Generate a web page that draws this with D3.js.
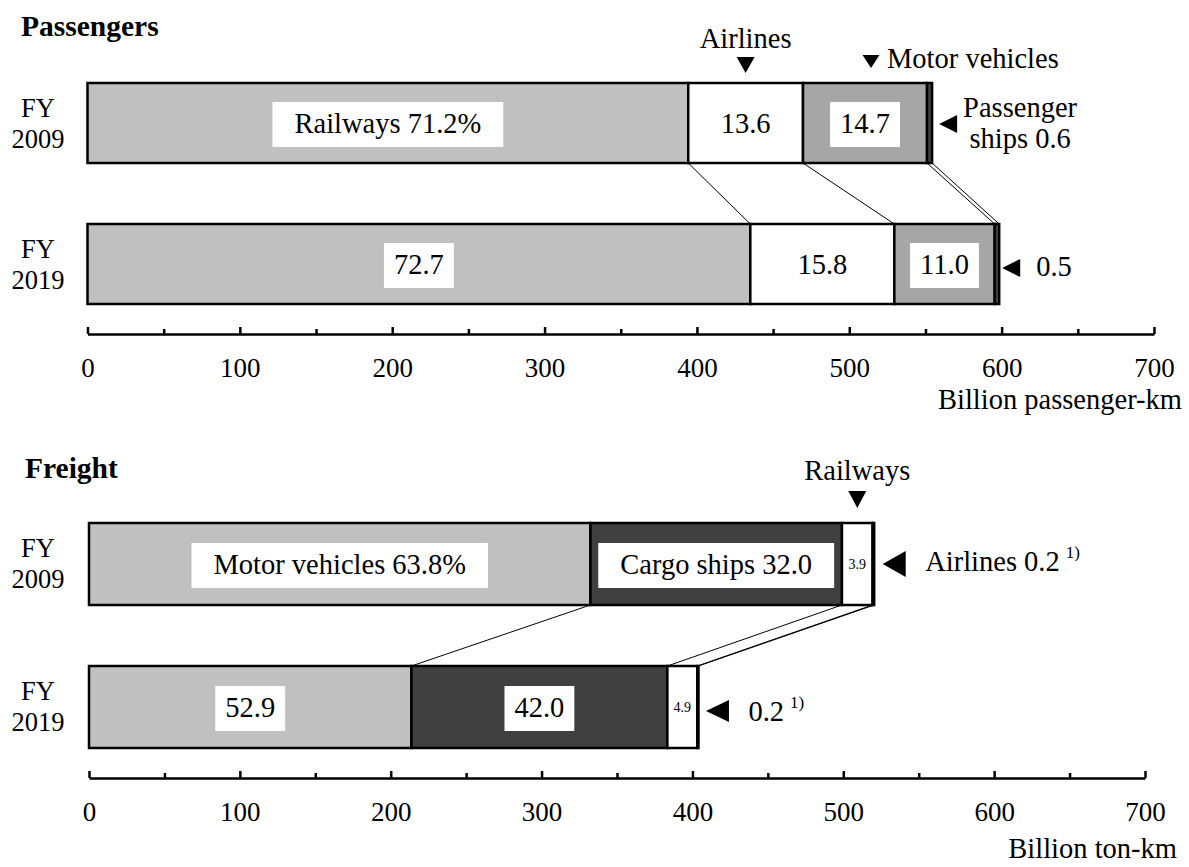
<!DOCTYPE html>
<html><head><meta charset="utf-8">
<script src="https://cdn.jsdelivr.net/npm/d3@7"></script>
<style>
body{margin:0;background:#fff}
svg{display:block;font-family:"Liberation Serif","Times New Roman",serif}
</style>
</head><body><svg id="c" width="1189" height="867"></svg>
<script>
// ---------------- data ----------------
const years = ["2009", "2019"];
const passengerModes = ["Railways", "Airlines", "Motor vehicles", "Passenger ships"];
const passengerTotals = [553.8, 598.4];            // billion passenger-km
const passengerShares2009 = [71.2, 13.6, 14.7, 0.6]; // %
const passengerShares2019 = [72.7, 15.8, 11.0, 0.5]; // %
const freightModes = ["Motor vehicles", "Cargo ships", "Railways", "Airlines"];
const freightTotals = [521.0, 404.0];              // billion ton-km
const freightShares2009 = [63.8, 32.0, 3.9, 0.2];  // %
const freightShares2019 = [52.9, 42.0, 4.9, 0.2];  // %
const majorTicks = [0, 100, 200, 300, 400, 500, 600, 700];
const minorTicks = [50, 150, 250, 350, 450, 550, 650];
const passengerColors = ["#c0c0c0", "#ffffff", "#a6a6a6", "#404040"];
const freightColors = ["#c0c0c0", "#404040", "#ffffff", "#111111"];

const svg = d3.select("#c");
const fmt = d3.format(".1f");
const FS = 28.5;

function tri(g, cx, cy, w, h, dir) {
  let pts;
  if (dir === "down") pts = [[cx - w/2, cy - h/2], [cx + w/2, cy - h/2], [cx, cy + h/2]];
  else pts = [[cx - w/2, cy], [cx + w/2, cy - h/2], [cx + w/2, cy + h/2]];
  g.append("path").attr("d", d3.line()(pts) + "Z").attr("fill", "#000");
}

function drawPanel(cfg) {
  const g = svg.append("g");
  const x = d3.scaleLinear().domain([0, 700]).range(cfg.range);
  const rows = cfg.shares.map((sh, i) => {
    const vals = sh.map(s => s / 100 * cfg.totals[i]);
    const cum = [0]; vals.forEach(v => cum.push(cum[cum.length - 1] + v));
    return { shares: sh, vals, cum, top: cfg.tops[i], year: years[i] };
  });

  // title
  g.append("text").attr("x", cfg.titleX).attr("y", cfg.titleY)
    .attr("font-weight", "bold").attr("font-size", 29.5).text(cfg.title);

  // connectors
  for (let k = 1; k < rows[0].cum.length; k++) {
    g.append("line")
      .attr("x1", x(rows[0].cum[k])).attr("y1", rows[0].top + cfg.barH)
      .attr("x2", x(rows[1].cum[k])).attr("y2", rows[1].top)
      .attr("stroke", "#000").attr("stroke-width", 1);
  }

  rows.forEach((r, i) => {
    // year labels
    const yl = g.append("text").attr("text-anchor", "middle").attr("font-size", 26.5);
    yl.append("tspan").attr("x", 38).attr("y", r.top + 34).text("FY");
    yl.append("tspan").attr("x", 38).attr("y", r.top + 65).text(r.year);

    // segments
    g.selectAll(null).data(r.vals).join("rect")
      .attr("x", (d, j) => x(r.cum[j]))
      .attr("y", r.top)
      .attr("width", (d, j) => x(r.cum[j + 1]) - x(r.cum[j]))
      .attr("height", cfg.barH)
      .attr("fill", (d, j) => cfg.colors[j])
      .attr("stroke", "#000").attr("stroke-width", 2.5);

    // in-bar labels
    r.vals.forEach((v, j) => {
      if (j === r.vals.length - 1) return;
      let txt = fmt(r.shares[j]);
      if (i === 0 && cfg.named.includes(j)) txt = cfg.modes[j] + " " + txt + (j === 0 ? "%" : "");
      const x0 = x(r.cum[j]), x1 = x(r.cum[j + 1]);
      const cx = (x0 + x1) / 2, cy = r.top + cfg.barH / 2;
      const small = (x1 - x0) < 50;
      const fs = small ? 14 : FS;
      const lg = g.append("g");
      const t = lg.append("text").attr("x", cx).attr("y", cy + fs * 0.34)
        .attr("text-anchor", "middle").attr("font-size", fs).text(txt);
      if (!small && cfg.colors[j] !== "#ffffff") {
        const w = t.node().getComputedTextLength() + (txt.length > 5 ? 44 : 20);
        lg.insert("rect", "text").attr("x", cx - w / 2).attr("y", cy - 21)
          .attr("width", w).attr("height", 45).attr("fill", "#fff");
      }
    });
  });

  // axis
  const ay = cfg.axisY;
  const ax = g.append("g").attr("transform", `translate(0,${ay})`)
    .call(d3.axisBottom(x).tickValues(majorTicks).tickSize(-7).tickSizeOuter(0).tickPadding(24).tickFormat(d3.format("d")));
  ax.select(".domain").attr("stroke-width", 2.5);
  ax.selectAll(".tick line").attr("stroke-width", 2.5);
  ax.selectAll("text").attr("font-size", 27).attr("font-family", "'Liberation Serif','Times New Roman',serif").attr("fill", "#000");
  const mx = g.append("g").attr("transform", `translate(0,${ay})`)
    .call(d3.axisBottom(x).tickValues(minorTicks).tickSize(-5).tickSizeOuter(0).tickFormat(""));
  mx.select(".domain").remove();
  mx.selectAll(".tick line").attr("stroke-width", 2.5);

  g.append("text").attr("x", cfg.unitX).attr("y", cfg.unitY).attr("text-anchor", "end")
    .attr("font-size", FS).text(cfg.unit);

  return { g, x, rows };
}

// ---------- Passengers ----------
const P = drawPanel({
  title: "Passengers", titleX: 21, titleY: 36,
  range: [87.5, 1154], tops: [83, 224], barH: 80, axisY: 334,
  totals: passengerTotals, shares: [passengerShares2009, passengerShares2019],
  modes: passengerModes, colors: passengerColors, named: [0],
  unit: "Billion passenger-km", unitX: 1182, unitY: 409
});
{
  const { g, x, rows } = P;
  const r0 = rows[0], r1 = rows[1];
  // Airlines marker
  const ac = x((r0.cum[1] + r0.cum[2]) / 2);
  tri(g, ac, r0.top - 18, 18, 16, "down");
  g.append("text").attr("x", ac).attr("y", r0.top - 35).attr("text-anchor", "middle")
    .attr("font-size", FS).text(passengerModes[1]);
  // Motor vehicles marker
  const mc = x((r0.cum[2] + r0.cum[3]) / 2) + 6;
  tri(g, mc, r0.top - 21.5, 17, 13, "down");
  g.append("text").attr("x", mc + 16).attr("y", r0.top - 15).attr("font-size", FS)
    .text(passengerModes[2]);
  // Passenger ships 2009
  const e0 = x(r0.cum[4]);
  tri(g, e0 + 16, r0.top + 41, 18, 18, "left");
  const st = g.append("text").attr("text-anchor", "middle").attr("font-size", FS);
  st.append("tspan").attr("x", e0 + 88).attr("y", r0.top + 34).text("Passenger");
  st.append("tspan").attr("x", e0 + 88).attr("y", r0.top + 65).text("ships " + fmt(r0.shares[3]));
  // 2019
  const e1 = x(r1.cum[4]);
  tri(g, e1 + 12, r1.top + 44, 18, 18, "left");
  g.append("text").attr("x", e1 + 37).attr("y", r1.top + 52).attr("font-size", FS)
    .text(fmt(r1.shares[3]));
}

// ---------- Freight ----------
const F = drawPanel({
  title: "Freight", titleX: 25, titleY: 478,
  range: [89, 1145], tops: [523, 666], barH: 82, axisY: 778,
  totals: freightTotals, shares: [freightShares2009, freightShares2019],
  modes: freightModes, colors: freightColors, named: [0, 1],
  unit: "Billion ton-km", unitX: 1177, unitY: 858
});
{
  const { g, x, rows } = F;
  const r0 = rows[0], r1 = rows[1];
  // Railways marker
  const rc = x((r0.cum[2] + r0.cum[3]) / 2);
  tri(g, rc, r0.top - 23.5, 18, 17, "down");
  g.append("text").attr("x", rc).attr("y", r0.top - 43).attr("text-anchor", "middle")
    .attr("font-size", FS).text(freightModes[2]);
  // Airlines 2009
  const e0 = x(r0.cum[4]);
  tri(g, e0 + 20, r0.top + 41, 23, 26, "left");
  const a0 = g.append("text").attr("x", e0 + 51).attr("y", r0.top + 48).attr("font-size", FS);
  a0.append("tspan").text(freightModes[3] + " " + fmt(r0.shares[3]));
  a0.append("tspan").attr("dx", 6).attr("dy", -13).attr("font-size", 17).text("1)");
  // Airlines 2019
  const e1 = x(r1.cum[4]);
  tri(g, e1 + 19, r1.top + 45, 23, 22, "left");
  const a1 = g.append("text").attr("x", e1 + 50).attr("y", r1.top + 55).attr("font-size", FS);
  a1.append("tspan").text(fmt(r1.shares[3]));
  a1.append("tspan").attr("dx", 6).attr("dy", -13).attr("font-size", 17).text("1)");
}
</script>
</body></html>
